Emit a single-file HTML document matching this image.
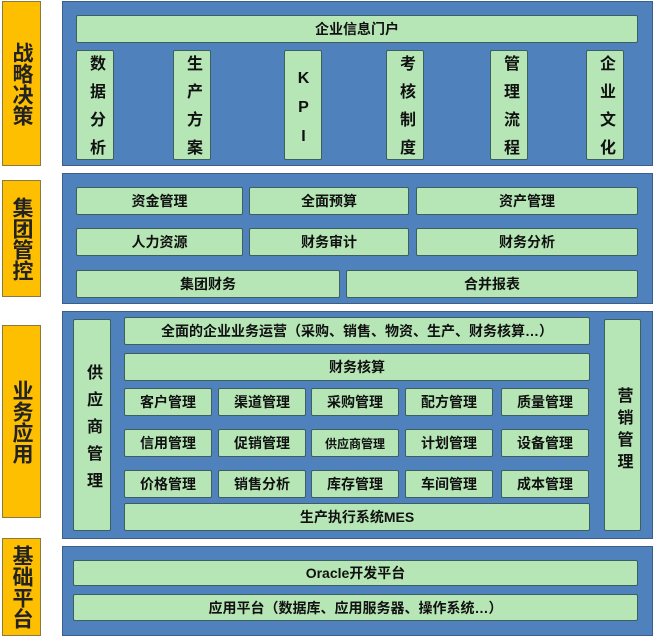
<!DOCTYPE html>
<html><head><meta charset="utf-8"><style>
body{margin:0;width:655px;height:636px;background:#fff;position:relative;overflow:hidden;font-family:"Liberation Sans","Noto Sans CJK SC",sans-serif;font-weight:bold;}
div{position:absolute;box-sizing:border-box;}
.o{background:#fdbf00;border:1px solid #8a7a40;left:2px;width:39px;font-size:21px;line-height:1;color:#222;display:flex;align-items:center;justify-content:center;writing-mode:vertical-rl;letter-spacing:0px;}
.p{background:#4f81bd;border:1px solid #3a5f8a;left:62px;width:591px;}
.g{background:#b6e6b6;border:1px solid #3f5f5f;border-radius:2px;font-size:14px;color:#111;display:flex;align-items:center;justify-content:center;white-space:nowrap;}
.v{writing-mode:vertical-rl;text-orientation:upright;letter-spacing:12px;font-size:16px;padding-top:12px;}
</style></head><body>
<div class="o" style="top:1px;height:165px">战略决策</div>
<div class="o" style="top:180px;height:117px">集团管控</div>
<div class="o" style="top:325px;height:193px">业务应用</div>
<div class="o" style="top:538px;height:98px">基础平台</div>

<div class="p" style="top:1px;height:165px"></div>
<div class="g" style="left:76px;top:15px;width:562px;height:28px">企业信息门户</div>
<div class="g v" style="left:76px;top:50px;width:38px;height:110px">数据分析</div>
<div class="g v" style="left:173px;top:50px;width:38px;height:110px">生产方案</div>
<div class="g v" style="left:284px;top:50px;width:38px;height:110px;padding-top:16px">KPI</div>
<div class="g v" style="left:386px;top:50px;width:38px;height:110px">考核制度</div>
<div class="g v" style="left:490px;top:50px;width:38px;height:110px">管理流程</div>
<div class="g v" style="left:586px;top:50px;width:38px;height:110px">企业文化</div>

<div class="p" style="top:173px;height:131px"></div>
<div class="g" style="left:76px;top:187px;width:167px;height:28px">资金管理</div>
<div class="g" style="left:249px;top:187px;width:160px;height:28px">全面预算</div>
<div class="g" style="left:416px;top:187px;width:222px;height:28px">资产管理</div>
<div class="g" style="left:76px;top:228px;width:167px;height:28px">人力资源</div>
<div class="g" style="left:249px;top:228px;width:160px;height:28px">财务审计</div>
<div class="g" style="left:416px;top:228px;width:222px;height:28px">财务分析</div>
<div class="g" style="left:76px;top:270px;width:264px;height:28px">集团财务</div>
<div class="g" style="left:346px;top:270px;width:292px;height:28px">合并报表</div>

<div class="p" style="top:311px;height:228px"></div>
<div class="g v" style="left:73px;top:319px;width:38px;height:212px;letter-spacing:11px">供应商管理</div>
<div class="g v" style="left:604px;top:319px;width:37px;height:212px;letter-spacing:6px">营销管理</div>
<div class="g" style="left:124px;top:317px;width:466px;height:28px">全面的企业业务运营（采购、销售、物资、生产、财务核算…）</div>
<div class="g" style="left:124px;top:353px;width:466px;height:28px">财务核算</div>
<div class="g" style="left:124px;top:388px;width:88px;height:28px">客户管理</div>
<div class="g" style="left:218px;top:388px;width:88px;height:28px">渠道管理</div>
<div class="g" style="left:311px;top:388px;width:88px;height:28px">采购管理</div>
<div class="g" style="left:405px;top:388px;width:88px;height:28px">配方管理</div>
<div class="g" style="left:501px;top:388px;width:88px;height:28px">质量管理</div>
<div class="g" style="left:124px;top:429px;width:88px;height:28px">信用管理</div>
<div class="g" style="left:218px;top:429px;width:88px;height:28px">促销管理</div>
<div class="g" style="left:311px;top:429px;width:88px;height:28px;font-size:12px">供应商管理</div>
<div class="g" style="left:405px;top:429px;width:88px;height:28px">计划管理</div>
<div class="g" style="left:501px;top:429px;width:88px;height:28px">设备管理</div>
<div class="g" style="left:124px;top:470px;width:88px;height:28px">价格管理</div>
<div class="g" style="left:218px;top:470px;width:88px;height:28px">销售分析</div>
<div class="g" style="left:311px;top:470px;width:88px;height:28px">库存管理</div>
<div class="g" style="left:405px;top:470px;width:88px;height:28px">车间管理</div>
<div class="g" style="left:501px;top:470px;width:88px;height:28px">成本管理</div>
<div class="g" style="left:124px;top:503px;width:466px;height:28px">生产执行系统MES</div>

<div class="p" style="top:546px;height:90px"></div>
<div class="g" style="left:73px;top:560px;width:565px;height:26px">Oracle开发平台</div>
<div class="g" style="left:73px;top:594px;width:565px;height:27px">应用平台（数据库、应用服务器、操作系统…）</div>
</body></html>
